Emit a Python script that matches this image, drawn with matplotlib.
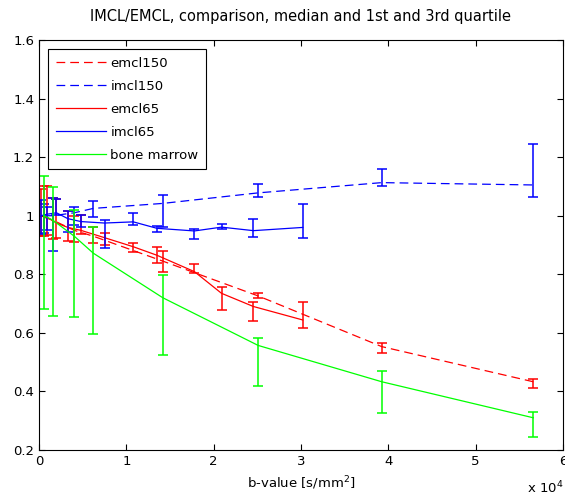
import numpy as np
import matplotlib
matplotlib.use("Agg")
import matplotlib.pyplot as plt
from matplotlib.ticker import FuncFormatter

plt.rcParams['font.family'] = ['DejaVu Sans']

# b-values [s/mm^2]
b65 = [250, 900, 2000, 3300, 4800, 7500, 10800, 13500, 17800, 20900, 24550, 30200]
b150 = [570, 1570, 4040, 6220, 14170, 25100, 39250, 56600]

# median, 1st quartile, 3rd quartile
emcl150_med = [0.995, 0.985, 0.95, 0.93, 0.845, 0.726, 0.553, 0.433]
emcl150_q1 = [0.93, 0.92, 0.91, 0.908, 0.809, 0.718, 0.532, 0.411]
emcl150_q3 = [1.10, 1.06, 1.0, 0.961, 0.880, 0.735, 0.566, 0.443]

imcl150_med = [1.0, 1.0, 1.01, 1.025, 1.042, 1.078, 1.113, 1.105]
imcl150_q1 = [0.94, 0.88, 0.97, 0.995, 0.962, 1.063, 1.10, 1.065]
imcl150_q3 = [1.04, 1.06, 1.03, 1.049, 1.071, 1.108, 1.16, 1.245]

emcl65_med = [1.0, 0.995, 0.975, 0.96, 0.95, 0.925, 0.894, 0.865, 0.809, 0.735, 0.69, 0.644]
emcl65_q1 = [0.93, 0.934, 0.924, 0.913, 0.938, 0.90, 0.877, 0.839, 0.803, 0.678, 0.641, 0.618]
emcl65_q3 = [1.09, 1.10, 1.056, 1.015, 1.001, 0.94, 0.908, 0.894, 0.835, 0.755, 0.706, 0.706]

imcl65_med = [1.0, 1.005, 1.01, 0.99, 0.98, 0.975, 0.979, 0.957, 0.948, 0.961, 0.949, 0.960]
imcl65_q1 = [0.936, 0.95, 1.001, 0.944, 0.961, 0.889, 0.970, 0.945, 0.919, 0.953, 0.928, 0.923]
imcl65_q3 = [1.052, 1.03, 1.056, 1.015, 1.001, 0.984, 1.010, 0.966, 0.953, 0.973, 0.989, 1.040]

bm_med = [1.0, 0.985, 0.93, 0.872, 0.72, 0.557, 0.433, 0.31]
bm_q1 = [0.681, 0.658, 0.655, 0.596, 0.523, 0.42, 0.326, 0.245]
bm_q3 = [1.135, 1.097, 1.019, 0.960, 0.797, 0.583, 0.469, 0.330]

series = [
    ("emcl150", b150, emcl150_med, emcl150_q1, emcl150_q3, "#ff0000", "--"),
    ("imcl150", b150, imcl150_med, imcl150_q1, imcl150_q3, "#0000ff", "--"),
    ("emcl65", b65, emcl65_med, emcl65_q1, emcl65_q3, "#ff0000", "-"),
    ("imcl65", b65, imcl65_med, imcl65_q1, imcl65_q3, "#0000ff", "-"),
    ("bone marrow", b150, bm_med, bm_q1, bm_q3, "#00ff00", "-"),
]

fig = plt.figure(figsize=(5.65, 4.96), dpi=100)
ax = fig.add_axes([39 / 565, 1 - 450 / 496, 524 / 565, 410 / 496])

for name, b, med, q1, q3, col, ls in series:
    b = np.array(b, dtype=float)
    med = np.array(med)
    lo = med - np.array(q1)
    hi = np.array(q3) - med
    ax.errorbar(b, med, yerr=[lo, hi], fmt='none', ecolor=col, elinewidth=1.1,
                capsize=3.4, capthick=1.1)
    line, = ax.plot(b, med, color=col, lw=0.9, label=name)
    if ls == "--":
        line.set_dashes((7, 4))

ax.set_xlim(0, 60000)
ax.set_ylim(0.2, 1.6)
ax.set_xticks(np.arange(0, 60001, 10000))
ax.set_yticks(np.arange(0.2, 1.61, 0.2))
ax.xaxis.set_major_formatter(FuncFormatter(lambda v, p: "%g" % (v / 1e4)))
ax.yaxis.set_major_formatter(FuncFormatter(lambda v, p: "%g" % round(v, 1)))
ax.tick_params(direction='in', top=True, right=True, labelsize=9.5, length=4, width=0.8)
for s in ax.spines.values():
    s.set_linewidth(0.8)

ax.set_title("IMCL/EMCL, comparison, median and 1st and 3rd quartile", fontsize=10.5, pad=14)
ax.set_xlabel("b-value [s/mm$^2$]", fontsize=9.5, labelpad=5)
ax.text(1.0, -0.072, r"x 10$^4$", transform=ax.transAxes, fontsize=9.5, ha='right', va='top')

leg = ax.legend(loc='upper left', bbox_to_anchor=(0.018, 0.978), fontsize=9.5, fancybox=False,
                edgecolor='black', framealpha=1, handlelength=3.8, borderpad=0.6,
                labelspacing=0.75, handletextpad=0.3, borderaxespad=0)
leg.get_frame().set_linewidth(0.8)

fig.savefig("out.png", dpi=100)
